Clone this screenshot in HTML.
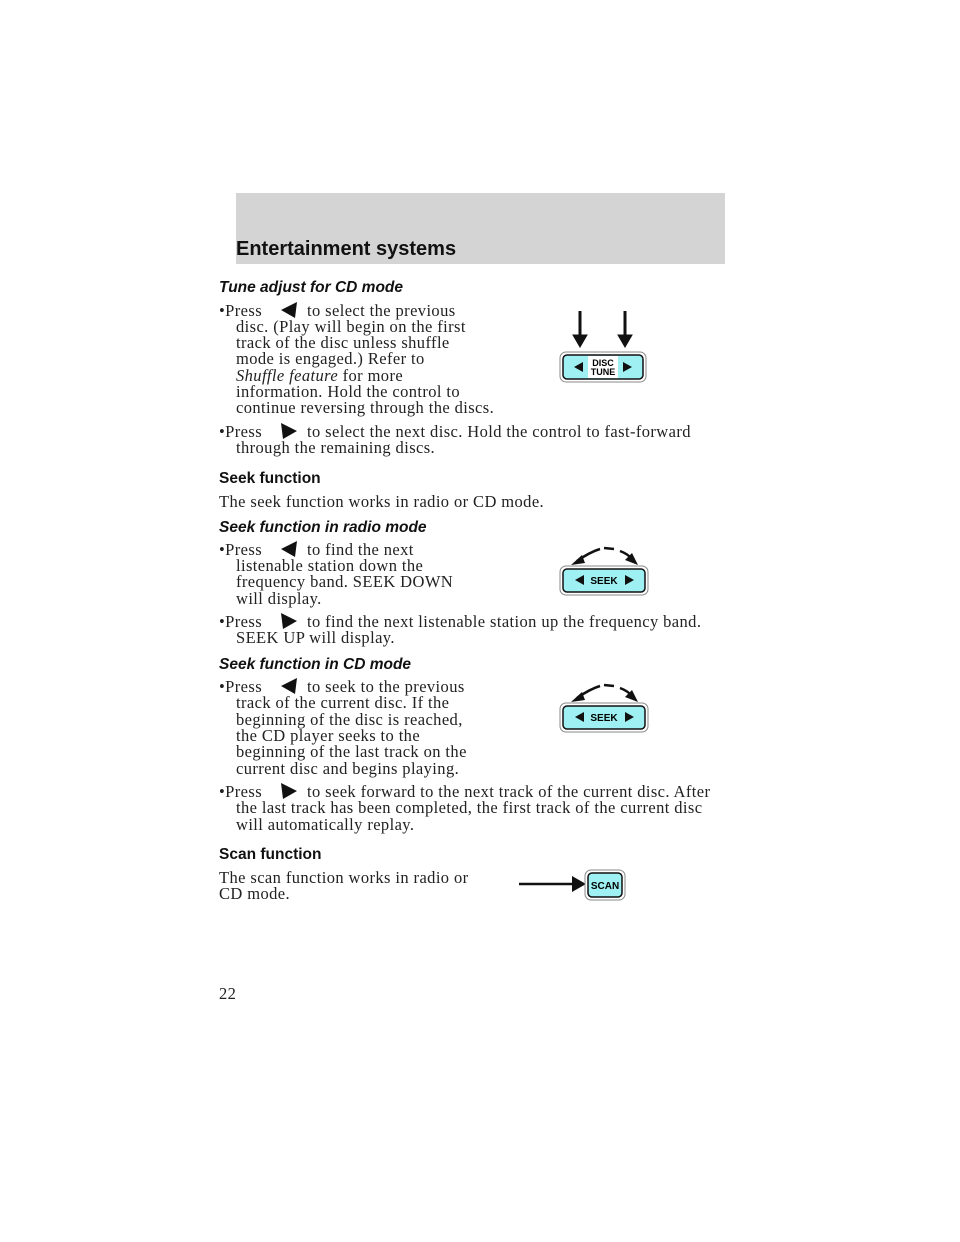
<!DOCTYPE html>
<html><head><meta charset="utf-8"><style>
body{margin:0;width:960px;height:1242px;background:#fff;position:relative;overflow:hidden}
.t{position:absolute;font-family:"Liberation Serif",serif;font-size:16.5px;letter-spacing:0.4px;line-height:16px;color:#222;white-space:nowrap}
.h{position:absolute;font-family:"Liberation Sans",sans-serif;font-weight:bold;font-size:15.5px;color:#111;white-space:nowrap}
.i{font-style:italic}
.tri{position:absolute;width:18px;height:16px}
</style></head><body>
<div style="position:absolute;left:236px;top:193px;width:489px;height:71px;background:#d4d4d4"></div>
<div class="h" style="left:236px;top:238px;font-size:20px">Entertainment systems</div>

<div class="h i" style="left:219px;top:279px">Tune adjust for CD mode</div>
<div class="t" style="left:219px;top:303px">•Press</div><svg class="tri" style="left:280px;top:302px" viewBox="0 0 18 16"><polygon points="1,8 17,0 15,16" fill="#111"/></svg><div class="t" style="left:307px;top:303px">to select the previous</div>
<div class="t" style="left:236px;top:319px">disc. (Play will begin on the first</div>
<div class="t" style="left:236px;top:335px">track of the disc unless shuffle</div>
<div class="t" style="left:236px;top:351px">mode is engaged.) Refer to</div>
<div class="t" style="left:236px;top:368px"><span class="i">Shuffle feature</span> for more</div>
<div class="t" style="left:236px;top:384px">information. Hold the control to</div>
<div class="t" style="left:236px;top:400px">continue reversing through the discs.</div>
<div class="t" style="left:219px;top:424px">•Press</div><svg class="tri" style="left:280px;top:423px" viewBox="0 0 18 16"><polygon points="1,0 17,8 3,16" fill="#111"/></svg><div class="t" style="left:307px;top:424px">to select the next disc. Hold the control to fast-forward</div>
<div class="t" style="left:236px;top:440px">through the remaining discs.</div>

<div class="h" style="left:219px;top:470px">Seek function</div>
<div class="t" style="left:219px;top:494px">The seek function works in radio or CD mode.</div>
<div class="h i" style="left:219px;top:519px">Seek function in radio mode</div>
<div class="t" style="left:219px;top:542px">•Press</div><svg class="tri" style="left:280px;top:541px" viewBox="0 0 18 16"><polygon points="1,8 17,0 15,16" fill="#111"/></svg><div class="t" style="left:307px;top:542px">to find the next</div>
<div class="t" style="left:236px;top:558px">listenable station down the</div>
<div class="t" style="left:236px;top:574px">frequency band. SEEK DOWN</div>
<div class="t" style="left:236px;top:591px">will display.</div>
<div class="t" style="left:219px;top:614px">•Press</div><svg class="tri" style="left:280px;top:613px" viewBox="0 0 18 16"><polygon points="1,0 17,8 3,16" fill="#111"/></svg><div class="t" style="left:307px;top:614px">to find the next listenable station up the frequency band.</div>
<div class="t" style="left:236px;top:630px">SEEK UP will display.</div>

<div class="h i" style="left:219px;top:656px">Seek function in CD mode</div>
<div class="t" style="left:219px;top:679px">•Press</div><svg class="tri" style="left:280px;top:678px" viewBox="0 0 18 16"><polygon points="1,8 17,0 15,16" fill="#111"/></svg><div class="t" style="left:307px;top:679px">to seek to the previous</div>
<div class="t" style="left:236px;top:695px">track of the current disc. If the</div>
<div class="t" style="left:236px;top:712px">beginning of the disc is reached,</div>
<div class="t" style="left:236px;top:728px">the CD player seeks to the</div>
<div class="t" style="left:236px;top:744px">beginning of the last track on the</div>
<div class="t" style="left:236px;top:761px">current disc and begins playing.</div>
<div class="t" style="left:219px;top:784px">•Press</div><svg class="tri" style="left:280px;top:783px" viewBox="0 0 18 16"><polygon points="1,0 17,8 3,16" fill="#111"/></svg><div class="t" style="left:307px;top:784px">to seek forward to the next track of the current disc. After</div>
<div class="t" style="left:236px;top:800px">the last track has been completed, the first track of the current disc</div>
<div class="t" style="left:236px;top:817px">will automatically replay.</div>

<div class="h" style="left:219px;top:846px">Scan function</div>
<div class="t" style="left:219px;top:870px">The scan function works in radio or</div>
<div class="t" style="left:219px;top:886px">CD mode.</div>
<div class="t" style="left:219px;top:986px">22</div>

<svg style="position:absolute;left:0;top:0" width="960" height="1242">
<g fill="#111" stroke="#111">
<line x1="580" y1="311" x2="580" y2="338" stroke-width="3"/><polygon points="573,335 587,335 580,347"/>
<line x1="625" y1="311" x2="625" y2="338" stroke-width="3"/><polygon points="618,335 632,335 625,347"/>
</g>
<rect x="560" y="352" width="86" height="30" rx="6" fill="#fff" stroke="#888"/>
<rect x="563" y="355" width="80" height="24" rx="4" fill="#9ef0f2" stroke="#111" stroke-width="1.5"/>
<rect x="588" y="356" width="30" height="22" fill="#fff"/>
<polygon points="574,367 583,362 583,372" fill="#111"/><polygon points="632,367 623,362 623,372" fill="#111"/>
<text x="603" y="366" font-family="Liberation Sans" font-weight="bold" font-size="9" text-anchor="middle">DISC</text>
<text x="603" y="375" font-family="Liberation Sans" font-weight="bold" font-size="9" text-anchor="middle">TUNE</text>

<g id="seek">
<path d="M577 561 Q590 552 600 549" fill="none" stroke="#111" stroke-width="2.5"/>
<polygon points="571,565 582,555 585,563" fill="#111"/>
<path d="M604 548 L614 549" stroke="#111" stroke-width="2.5"/>
<path d="M620 551 Q628 554 632 559" fill="none" stroke="#111" stroke-width="2.5"/>
<polygon points="638,565 625,560 632,553" fill="#111"/>
<rect x="560" y="566" width="88" height="29" rx="6" fill="#fff" stroke="#888"/>
<rect x="563" y="569" width="82" height="23" rx="4" fill="#9ef0f2" stroke="#111" stroke-width="1.5"/>
<polygon points="575,580 584,575 584,585" fill="#111"/><polygon points="634,580 625,575 625,585" fill="#111"/>
<text x="604" y="584" font-family="Liberation Sans" font-weight="bold" font-size="10" text-anchor="middle">SEEK</text>
</g>
<use href="#seek" transform="translate(0,137)"/>

<line x1="519" y1="884" x2="575" y2="884" stroke="#111" stroke-width="2.5"/>
<polygon points="572,876 586,884 572,892" fill="#111"/>
<rect x="585" y="870" width="40" height="30" rx="6" fill="#fff" stroke="#888"/>
<rect x="588" y="873" width="34" height="24" rx="4" fill="#9ef0f2" stroke="#111" stroke-width="1.5"/>
<text x="605" y="889" font-family="Liberation Sans" font-weight="bold" font-size="10" text-anchor="middle">SCAN</text>
</svg>
</body></html>
